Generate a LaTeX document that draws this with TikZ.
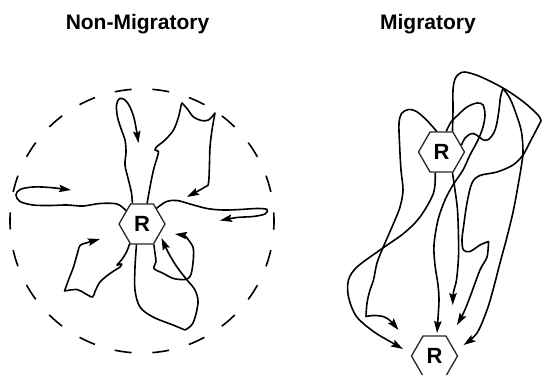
\documentclass[tikz,border=0pt]{standalone}
\usepackage{fontspec}
\setsansfont{Liberation Sans}
\usetikzlibrary{shapes.geometric,arrows.meta}

\begin{document}
\begin{tikzpicture}[x=1pt, y=-1pt,
    roost/.style={draw=black!85, line width=1.3pt, fill=white, regular polygon, regular polygon sides=6,
      minimum size=46pt, inner sep=0pt, font=\sffamily\bfseries\fontsize{22}{26}\selectfont},
    heading/.style={anchor=base, font=\sffamily\bfseries\fontsize{21}{25}\selectfont},
    trail/.style={line width=1.6pt, line join=round, -{Stealth[length=12pt,width=7.5pt,inset=2pt]}},
    homerange/.style={line width=1.6pt, dash pattern=on 17pt off 20.7pt, dash phase=8.5pt}]
\useasboundingbox (0,0) rectangle (542,375);

\node[heading] (tnm) at (137.5,29) {Non-Migratory};
\node[heading] (tm) at (428,29) {Migratory};

% non-migratory: home range
\node[roost] (nm) at (142,224) {R};
\draw[homerange] (142,221) circle[radius=132pt];
\draw[trail] plot[smooth, tension=.55] coordinates {(nm.140) (117,204) (100,203.5) (83,206) (67,205) (50,205.5) (33,205) (20,201.5) (16,195) (20,189.5) (33,187) (50,187.5) (71,190)};
\draw[trail] plot[smooth, tension=.55] coordinates {(nm.115) (131.5,193) (128.5,180) (125,165) (126,152) (125,140) (121.5,130) (117.5,117) (116.5,105) (119.5,98.5) (125,100) (130,107) (134.5,120) (138.5,143)};
\draw[trail] plot[smooth, tension=.55] coordinates {(nm.76) (150,187) (153.5,170) (157,158) (158.5,151.5) (155,150) (157,146.5) (165,140) (173.5,130) (178.5,117) (181,106) (182,103)}
  -- plot[smooth, tension=.55] coordinates {(182,103) (187,108.5) (193.5,117) (201.5,120.5) (208.5,120) (215,113)}
  -- plot[smooth, tension=.55] coordinates {(215,113) (212,130) (210,147) (209.5,163) (208.5,183) (205,187) (187,197)};
\draw[trail] plot[smooth, tension=.55] coordinates {(nm.47) (166.5,201.5) (177,200.5) (190,204) (207,208.5) (223,210) (240,209.5) (257,208.5) (267,209.5) (265,214) (253,216.5) (237,217.5) (220,220.5)};
\draw[trail] plot[smooth, tension=.55] coordinates {(nm.238) (126.5,252) (121.5,260) (117,265) (121.5,264) (120,267) (110,273.5) (100,282) (95,291.5) (92.5,297) (85,293.5) (77,289.5) (64.5,291)}
  -- plot[smooth, tension=.55] coordinates {(64.5,291) (68.5,280) (73.5,267) (77.5,253) (80,245.5) (86,243) (100,239)};
\draw[trail] plot[smooth, tension=.55] coordinates {(nm.255) (135,267) (135,290) (140,307) (153,317) (173,325) (185,330)}
  -- plot[smooth, tension=.55] coordinates {(185,330) (193,323) (198,303) (195,290) (187,280) (177,267) (168.5,253) (161.5,238)};
\draw[trail] plot[smooth, tension=.55] coordinates {(nm.300) (155,253.5) (156,262) (154,268.5) (163.5,273.5) (173.5,278.5) (185,279.5) (190,276.5) (192,270) (193.5,257) (193,247) (188.5,240) (185,236) (175,234)};

% migratory: old and new roost
\node[roost] (mt) at (441.5,152) {R};
\node[roost] (mb) at (434.5,356) {R};
\draw[trail] plot[smooth, tension=.55] coordinates {(mt.103) (426.5,120) (416.5,111.5) (408.5,109.5) (401.5,113.5) (399,123.5) (399.5,143) (401,170) (403,190) (400,207) (393.5,223.5) (383.5,246.5) (377,263) (373.5,280) (370,290) (367,303) (366,316.5)}
  -- plot[smooth, tension=.55] coordinates {(366,316.5) (373,315.5) (383,316.5) (390,320.5) (398.5,330)};
\draw[trail] plot[smooth, tension=.55] coordinates {(mt.253) (433.5,193) (420,217) (403.5,233.5) (380,250) (357,267) (348.5,280) (348.5,297) (356.5,316.5) (373.5,331.5) (390,341.5) (403,349)};
\draw[trail] plot[smooth, tension=.55] coordinates {(mt.77) (451,122) (458,115) (467,107) (477,103) (483,105) (485,115) (483,127) (478,140) (470,155) (463,170) (453,185) (445,200) (438,220) (434,245) (435,265) (438,285) (439,300) (438,318) (437,333)};
\draw[trail] plot[smooth, tension=.55] coordinates {(mt.298) (455,190) (457.5,210) (458.5,237) (458.5,257) (456.5,280) (453.5,292) (452.7,305)};
\draw[trail] plot[smooth, tension=.55] coordinates {(mt.62) (453,110) (453,90) (455,79) (459,74) (465,72) (480,76.5) (503,88) (523,101.5) (538,115) (541,121)}
  -- plot[smooth, tension=.55] coordinates {(541,121) (530,142) (523,155) (513,165) (497,172) (480,175.5) (472,183) (467,203) (463.5,227) (462,240) (463.5,250) (470,251.5) (480,245) (488.5,241.5)}
  -- plot[smooth, tension=.55] coordinates {(488.5,241.5) (487,257) (480,270) (470,297) (463.5,313) (457,325)};
\draw[trail] plot[smooth, tension=.55] coordinates {(mt.19) (465,138) (468.5,135) (473.5,133.5) (478.5,136.5) (483.5,140) (488.5,139.5) (493.5,133.5) (496.5,125) (499,110) (500.5,97) (503,88.5)}
  -- plot[smooth, tension=.55] coordinates {(503,88.5) (510,98.5) (516.5,115) (521.5,132) (523,152) (521.5,165) (518.5,183) (513.5,210) (507,237) (500,263) (493,290) (487,310) (477,333) (463.5,345)};
\end{tikzpicture}
\end{document}
